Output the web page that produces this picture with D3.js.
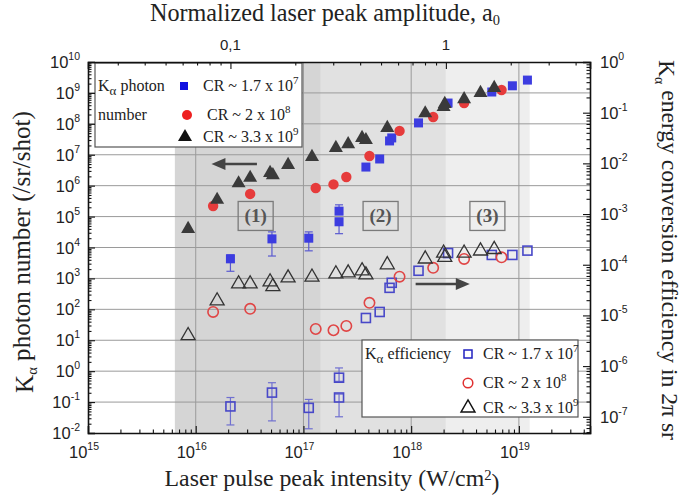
<!DOCTYPE html>
<html><head><meta charset="utf-8">
<script src="https://cdn.jsdelivr.net/npm/d3@7"></script>
<style>body{margin:0;background:#fff} svg{display:block}</style>
</head><body><svg id="c" width="685" height="495"></svg>
<script>
// ---------------- data ----------------
// CR ~ 1.7e7 (squares)
const sqI = [2.1e16, 5.1e16, 1.12e17, 2.14e17, 2.14e17, 3.8e17, 5.1e17, 6.3e17, 6.6e17, 1.17e18, 2.2e18, 5.6e18, 8.7e18, 1.2e19];
const sqN = [4.3e3, 1.9e4, 2.0e4, 1.5e5, 6.8e4, 4.0e6, 7.3e6, 2.8e7, 3.5e7, 1.07e8, 4.7e8, 1.07e9, 1.7e9, 2.6e9];
const sqNLo = [1.7e3, 5.3e3, 7.8e3, 1.2e5, 2.8e4, null, null, null, null, null, null, null, null, null];
const sqNHi = [5.8e3, 3.2e4, 3.2e4, 2.4e5, 8.0e4, null, null, null, null, null, null, null, null, null];
const sqE = [1.6e-7, 3.0e-7, 1.5e-7, 5.9e-7, 2.4e-7, 8.9e-6, 1.17e-5, 3.5e-5, 4.4e-5, 7.6e-5, 1.7e-4, 1.56e-4, 1.56e-4, 1.9e-4];
const sqELo = [6.9e-8, 8.3e-8, 5.8e-8, 5.0e-7, 1.0e-7, null, null, null, null, null, null, null, null, null];
const sqEHi = [2.4e-7, 4.7e-7, 2.2e-7, 9.2e-7, 2.8e-7, null, null, null, null, null, null, null, null, null];
// CR ~ 2e8 (circles)
const ciI = [1.45e16, 3.2e16, 1.3e17, 1.9e17, 2.5e17, 4.1e17, 7.8e17, 1.6e18, 3.1e18, 6.9e18];
const ciN = [2.2e5, 5.4e5, 8.4e5, 1.1e6, 1.9e6, 9.1e6, 5.9e7, 1.66e8, 4.7e8, 1.24e9];
const ciE = [1.17e-5, 1.35e-5, 5.4e-6, 5.1e-6, 6.2e-6, 1.77e-5, 5.8e-5, 8.7e-5, 1.3e-4, 1.4e-4];
// CR ~ 3.3e9 (triangles)
const trI = [8.5e15, 1.58e16, 2.5e16, 3.2e16, 4.9e16, 5.2e16, 7.2e16, 1.2e17, 2.0e17, 2.6e17, 3.5e17, 3.8e17, 6.0e17, 1.35e18, 2.0e18, 2.05e18, 3.1e18, 4.4e18, 5.9e18];
const trN = [4.0e4, 3.5e5, 1.2e6, 1.8e6, 2.6e6, 2.2e6, 4.7e6, 8.5e6, 1.66e7, 2.2e7, 3.5e7, 3.0e7, 7.4e7, 2.2e8, 3.5e8, 4.4e8, 6.3e8, 1.0e9, 1.45e9];
const trE = [4.0e-6, 1.94e-5, 4.2e-5, 4.2e-5, 4.6e-5, 3.7e-5, 5.5e-5, 5.7e-5, 6.6e-5, 6.9e-5, 7.6e-5, 6.3e-5, 1.0e-4, 1.3e-4, 1.7e-4, 1.4e-4, 1.7e-4, 1.87e-4, 2.0e-4];
// shaded regimes
const bandStart = [6.4e15, 1.45e17, 2.1e18];
const bandEnd = [1.45e17, 2.1e18, 1.26e19];
const bandColor = ["#d5d5d5", "#e1e1e1", "#eeeeee"];
const regionLabels = ["(1)", "(2)", "(3)"];
const regionI = [3.6e16, 5.2e17, 5.1e18];
// tick labels
const xDecades = [15, 16, 17, 18, 19];
const yLDecades = [-2, -1, 0, 1, 2, 3, 4, 5, 6, 7, 8, 9, 10];
const yRDecades = [0, -1, -2, -3, -4, -5, -6, -7];
const a0Major = [0.1, 1];
const a0Labels = ["0,1", "1"];
const a0Rel = 2.1e18; // intensity at a0 = 1

// ---------------- layout ----------------
const L = 88, R = 590, T = 62, B = 433;
const svg = d3.select("#c");
const x = d3.scaleLog().domain([1e15, Math.pow(10, 19.66)]).range([L, R]);
const yL = d3.scaleLog().domain([1e-2, 1e10]).range([B, T]);
const yR = d3.scaleLog().domain([Math.pow(10, -7.32), 1]).range([B, T]);
const xa = d3.scaleLog().domain([Math.sqrt(1e15 / a0Rel), Math.sqrt(Math.pow(10, 19.66) / a0Rel)]).range([L, R]);

const serif = "'Liberation Serif', 'DejaVu Serif', serif";
const sans = "'Liberation Sans', Arial, sans-serif";

// bands
svg.append("g").selectAll("rect").data(bandStart).join("rect")
  .attr("x", d => x(d)).attr("y", T)
  .attr("width", (d, i) => x(bandEnd[i]) - x(d)).attr("height", B - T)
  .attr("fill", (d, i) => bandColor[i]);

// grid
const grid = svg.append("g").attr("stroke", "#9a9a9a").attr("stroke-width", 1);
yLDecades.slice(1, -1).forEach(e => grid.append("line").attr("x1", L).attr("x2", R).attr("y1", yL(Math.pow(10, e))).attr("y2", yL(Math.pow(10, e))));
xDecades.slice(1).forEach(e => grid.append("line").attr("y1", T).attr("y2", B).attr("x1", x(Math.pow(10, e))).attr("x2", x(Math.pow(10, e))));

// region labels
const rg = svg.append("g");
regionLabels.forEach((t, i) => {
  const cx = x(regionI[i]), cy = yL(Math.pow(10, 5.02));
  rg.append("rect").attr("x", cx - 17.5).attr("y", cy - 14.5).attr("width", 35).attr("height", 29)
    .attr("fill", "none").attr("stroke", "#7a7a7a").attr("stroke-width", 1.3);
  rg.append("text").attr("x", cx).attr("y", cy + 6.5).attr("text-anchor", "middle")
    .attr("font-family", serif).attr("font-weight", "bold").attr("font-size", 19).attr("fill", "#555").text(t);
});

// arrows
function arrow(x1, x2, y) {
  const dir = Math.sign(x2 - x1);
  svg.append("line").attr("x1", x1).attr("x2", x2 - dir * 10).attr("y1", y).attr("y2", y).attr("stroke", "#444").attr("stroke-width", 2.5);
  svg.append("path").attr("d", `M${x2},${y} L${x2 - dir * 14},${y - 6} L${x2 - dir * 14},${y + 6} Z`).attr("fill", "#444");
}
arrow(x(3.7e16), x(1.4e16), yL(Math.pow(10, 6.70)));
arrow(x(1.1e18), x(3.5e18), yL(Math.pow(10, 2.82)));

// error bars
function errBars(I, lo, hi, ys, color) {
  const g = svg.append("g").attr("stroke", color).attr("stroke-width", 1.2);
  I.forEach((v, i) => {
    if (lo[i] == null) return;
    const cx = x(v);
    g.append("line").attr("x1", cx).attr("x2", cx).attr("y1", ys(lo[i])).attr("y2", ys(hi[i]));
    [lo[i], hi[i]].forEach(w => g.append("line").attr("x1", cx - 4).attr("x2", cx + 4).attr("y1", ys(w)).attr("y2", ys(w)));
  });
}
errBars(sqI, sqNLo, sqNHi, yL, "#5a5ad0");
errBars(sqI, sqELo, sqEHi, yR, "#7070d0");

// markers
const sqCol = "#3c3ce0", ciCol = "#e63b3b", trCol = "#3a3a3a";
const tri = d3.symbol().type(d3.symbolTriangle).size(85);
const m = svg.append("g");
m.selectAll(".fs").data(sqI).join("rect").attr("x", (d) => x(d) - 4.5).attr("y", (d, i) => yL(sqN[i]) - 4.5).attr("width", 9).attr("height", 9).attr("fill", sqCol);
m.selectAll(".fc").data(ciI).join("circle").attr("cx", d => x(d)).attr("cy", (d, i) => yL(ciN[i])).attr("r", 5.2).attr("fill", ciCol);
m.selectAll(".ft").data(trI).join("path").attr("d", tri).attr("transform", (d, i) => `translate(${x(d)},${yL(trN[i])})`).attr("fill", trCol);
const o = svg.append("g").attr("fill", "none").attr("stroke-width", 1.6);
o.selectAll(".os").data(sqI).join("rect").attr("x", d => x(d) - 4.5).attr("y", (d, i) => yR(sqE[i]) - 4.5).attr("width", 9).attr("height", 9).attr("stroke", "#4848c8");
o.selectAll(".oc").data(ciI).join("circle").attr("cx", d => x(d)).attr("cy", (d, i) => yR(ciE[i])).attr("r", 5.2).attr("stroke", "#e04545");
o.selectAll(".ot").data(trI).join("path").attr("d", tri).attr("transform", (d, i) => `translate(${x(d)},${yR(trE[i])})`).attr("stroke", "#333").attr("stroke-width", 1.3);

// ---------------- legends ----------------
function crText(g, tx, ty, base, exp) {
  const t = g.append("text").attr("x", tx).attr("y", ty).attr("font-family", serif).attr("font-size", 16).attr("fill", "#222");
  t.append("tspan").text("CR ~ " + base + " x 10");
  t.append("tspan").attr("dy", -7).attr("font-size", 11).text(exp);
}
function kAlpha(g, tx, ty, rest) {
  const t = g.append("text").attr("x", tx).attr("y", ty).attr("font-family", serif).attr("font-size", 16).attr("fill", "#222");
  t.append("tspan").text("K");
  t.append("tspan").attr("dy", 4).attr("font-size", 13).text("α");
  t.append("tspan").attr("dy", -4).text(rest);
}
const lg1 = svg.append("g");
lg1.append("rect").attr("x", 95).attr("y", 63).attr("width", 207).attr("height", 84).attr("fill", "#fff").attr("stroke", "#555").attr("stroke-width", 1.2);
kAlpha(lg1, 98, 91, " photon");
lg1.append("text").attr("x", 98).attr("y", 120).attr("font-family", serif).attr("font-size", 16).attr("fill", "#222").text("number");
lg1.append("rect").attr("x", 180).attr("y", 82).attr("width", 8).attr("height", 8).attr("fill", "#1010e0");
lg1.append("circle").attr("cx", 187).attr("cy", 115).attr("r", 5).attr("fill", "#ee2020");
lg1.append("path").attr("d", tri).attr("transform", "translate(185,137)").attr("fill", "#111");
crText(lg1, 203, 91, "1.7", "7");
crText(lg1, 207, 120, "2", "8");
crText(lg1, 203, 142, "3.3", "9");

const lg2 = svg.append("g");
lg2.append("rect").attr("x", 362).attr("y", 340).attr("width", 216).attr("height", 77).attr("fill", "#fff").attr("stroke", "#555").attr("stroke-width", 1.2);
kAlpha(lg2, 365, 359, " efficiency");
lg2.append("rect").attr("x", 464).attr("y", 350).attr("width", 8).attr("height", 8).attr("fill", "none").attr("stroke", "#2020c0").attr("stroke-width", 1.5);
lg2.append("circle").attr("cx", 468).attr("cy", 383).attr("r", 4.8).attr("fill", "none").attr("stroke", "#e03030").attr("stroke-width", 1.5);
lg2.append("path").attr("d", tri).attr("transform", "translate(468,408)").attr("fill", "none").attr("stroke", "#111").attr("stroke-width", 1.4);
crText(lg2, 483, 359, "1.7", "7");
crText(lg2, 483, 388, "2", "8");
crText(lg2, 483, 413, "3.3", "9");

// ---------------- axes ----------------
function minors(decs) {
  const out = [];
  decs.forEach(e => { for (let k = 2; k <= 9; k++) out.push(k * Math.pow(10, e)); });
  return out;
}
function addAxis(axisFn, scale, majors, mins, transform) {
  const dom = scale.domain(), lo = Math.min(...dom) * 0.9999, hi = Math.max(...dom) * 1.0001;
  const g1 = svg.append("g").attr("transform", transform)
    .call(axisFn(scale).tickValues(majors.filter(v => v >= lo && v <= hi)).tickSize(-7).tickFormat(""));
  const g2 = svg.append("g").attr("transform", transform)
    .call(axisFn(scale).tickValues(mins.filter(v => v >= lo && v <= hi)).tickSize(-3.5).tickFormat(""));
  g2.select(".domain").remove();
  [g1, g2].forEach(g => { g.selectAll("line").attr("stroke", "#111").attr("stroke-width", 1.1); g.select(".domain").attr("stroke", "#111").attr("stroke-width", 1.6); });
}
addAxis(d3.axisLeft, yL, yLDecades.map(e => Math.pow(10, e)), minors(d3.range(-2, 10)), `translate(${L},0)`);
addAxis(d3.axisRight, yR, yRDecades.map(e => Math.pow(10, e)), minors(d3.range(-8, 0)), `translate(${R},0)`);
addAxis(d3.axisBottom, x, xDecades.map(e => Math.pow(10, e)), minors(d3.range(15, 20)), `translate(0,${B})`);
addAxis(d3.axisTop, xa, a0Major, minors([-2, -1, 0]), `translate(0,${T})`);

// tick labels
function pow10(tx, ty, exp, anchor) {
  const t = svg.append("text").attr("x", tx).attr("y", ty).attr("font-family", sans).attr("font-size", 16.5).attr("fill", "#222").attr("text-anchor", anchor);
  t.append("tspan").text("10");
  t.append("tspan").attr("dy", -8).attr("font-size", 10.5).text(exp);
}
yLDecades.forEach(e => pow10(80, yL(Math.pow(10, e)) + 6, String(e), "end"));
yRDecades.forEach(e => pow10(600, yR(Math.pow(10, e)) + 6, String(e), "start"));
xDecades.forEach(e => pow10(x(Math.pow(10, e)) - 4, 458, String(e), "middle"));
a0Major.forEach((v, i) => svg.append("text").attr("x", xa(v)).attr("y", 50).attr("text-anchor", "middle")
  .attr("font-family", sans).attr("font-size", 15).attr("fill", "#222").text(a0Labels[i]));

// titles (font size fitted to the measured width of the original titles)
function fit(t, target) {
  const w = t.node().getComputedTextLength();
  const fs = +t.attr("font-size");
  t.attr("font-size", (fs * target / w).toFixed(2));
}
function title(transform, parts, target) {
  const t = svg.append("text").attr("transform", transform).attr("text-anchor", "middle")
    .attr("font-family", serif).attr("font-size", 20).attr("fill", "#222");
  parts.forEach(p => {
    const s = t.append("tspan").text(p[0]);
    if (p[1]) s.attr("dy", p[1]);
    if (p[2]) s.attr("font-size", p[2]);
  });
  fit(t, target);
  return t;
}
title("translate(325,21)", [["Normalized laser peak amplitude,  a"], ["0", "0.25em", "60%"]], 350);
title("translate(332,486)", [["Laser pulse peak intensity (W/cm"], ["2", "-0.4em", "62%"], [")", "0.4em"]], 335);
title("translate(33,252) rotate(-90)", [["K"], ["α", "0.3em", "58%"], [" photon number (/sr/shot)", "-0.3em"]], 282);
title("translate(659,250) rotate(90)", [["K"], ["α", "0.3em", "58%"], [" energy conversion efficiency in 2π sr", "-0.3em"]], 380);
</script></body></html>
